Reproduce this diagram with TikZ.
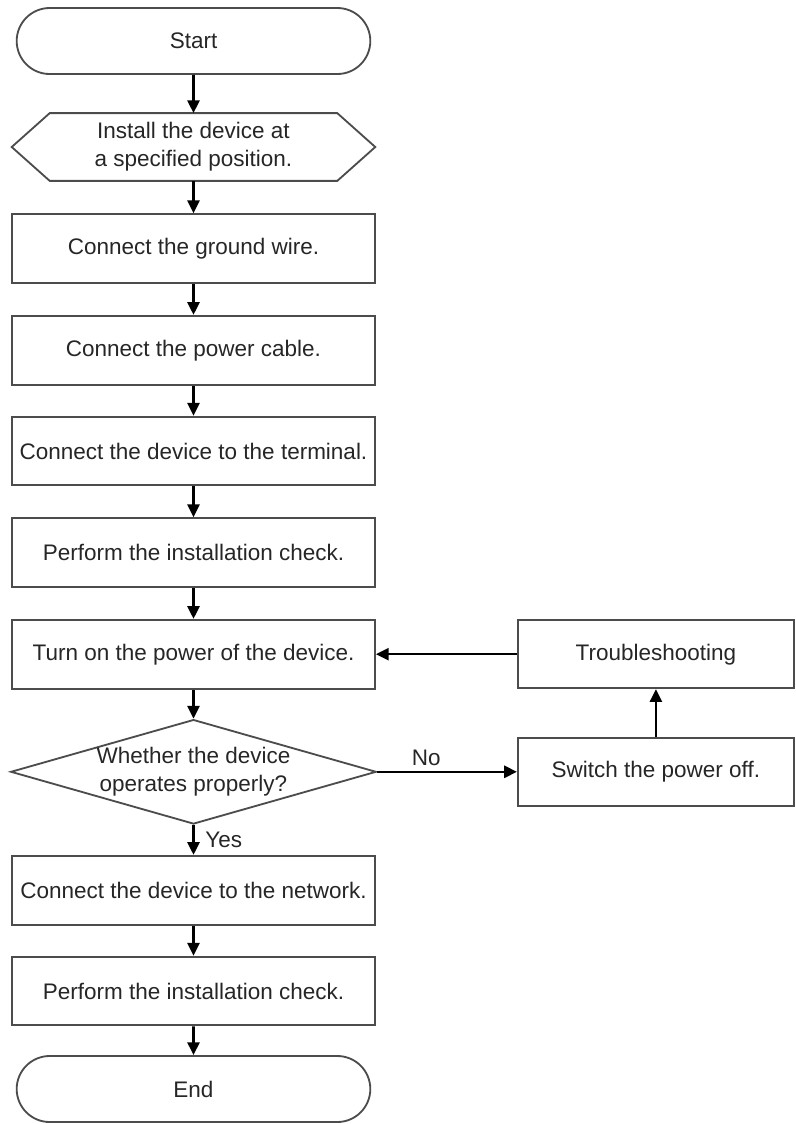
\documentclass[tikz,border=0pt]{standalone}
\usepackage{fontspec}
\setmainfont{Liberation Sans}
\usetikzlibrary{arrows.meta, positioning, shapes.geometric, shapes.misc}

\begin{document}
\begin{tikzpicture}[
    font=\fontsize{16}{20}\selectfont,
    every node/.style={text=black!85},
    box/.style={draw=black!70, line width=1.3pt, minimum width=9.075cm, minimum height=1.72cm},
    sidebox/.style={box, minimum width=6.9cm, minimum height=1.7cm},
    term/.style={box, rounded rectangle, minimum height=1.65cm},
    hexa/.style={minimum width=9.075cm, minimum height=1.68cm, align=center},
    decide/.style={diamond, draw=black!70, line width=1.3pt, aspect=3.5, inner sep=0pt,
        minimum width=8.95cm, minimum height=2.52cm, align=center},
    flow/.style={-{Triangle[length=0.32cm, width=0.3cm]}, line width=1.8pt, black},
    node distance=2.54cm,
    on grid,
]

    \useasboundingbox (0,0) rectangle (19.9,-28.1);

    \node[term]                         (A) at (4.8375,-1.025) {Start};
    \node[hexa,     below=2.65cm of A]  (B) {Install the device at\\a specified position.};
    \node[box,      below=of B]         (C) {Connect the ground wire.};
    \node[box,      below=of C]         (D) {Connect the power cable.};
    \node[box,      below=2.52cm of D]  (E) {Connect the device to the terminal.};
    \node[box,      below=of E]         (F) {Perform the installation check.};
    \node[box,      below=of F]         (G) {Turn on the power of the device.};
    \node[decide,   below=2.94cm of G]  (H) {Whether the device\\operates properly?};
    \node[box,      below=2.96cm of H]  (K) {Connect the device to the network.};
    \node[box,      below=2.52cm of K]  (L) {Perform the installation check.};
    \node[term,     below=2.45cm of L]  (M) {End};
    \node[sidebox,  right=11.56cm of G] (J) {Troubleshooting};
    \node[sidebox,  right=11.56cm of H] (I) {Switch the power off.};

    % hexagon outline
    \draw[draw=black!70, line width=1.3pt]
        (B.west) -- ([xshift=0.95cm]B.north west) -- ([xshift=-0.95cm]B.north east)
        -- (B.east) -- ([xshift=-0.95cm]B.south east) -- ([xshift=0.95cm]B.south west) -- cycle;

    \path[flow]
        (A) edge (B)
        (B) edge (C)
        (C) edge (D)
        (D) edge (E)
        (E) edge (F)
        (F) edge (G)
        (G) edge (H)
        (H) edge node [right=0.15cm, pos=0.5] {Yes} (K)
        (K) edge (L)
        (L) edge (M)
        (H) edge node [above, pos=0.35] {No} (I)
        (I) edge (J)
        (J) edge (G)
    ;
\end{tikzpicture}
\end{document}
